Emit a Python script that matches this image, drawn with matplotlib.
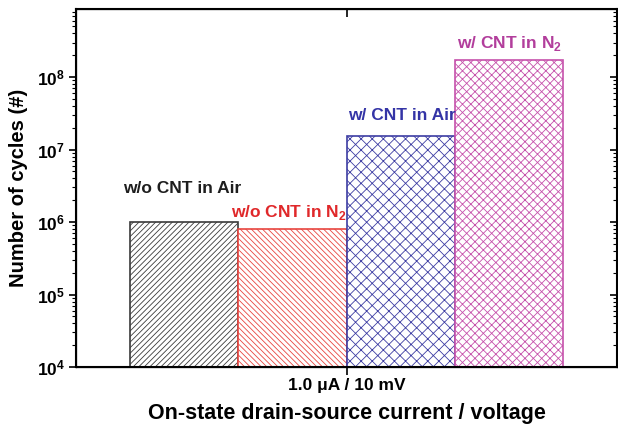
import matplotlib
matplotlib.use("Agg")
import matplotlib.pyplot as plt
from matplotlib.ticker import NullFormatter, LogLocator

# data
labels = ["w/o CNT in Air", r"w/o CNT in N$_\mathbf{2}$",
          "w/ CNT in Air", r"w/ CNT in N$_\mathbf{2}$"]
cycles = [1.0e6, 8.0e5, 1.53e7, 1.7e8]
positions = [-0.6, -0.2, 0.2, 0.6]
x_tick_label = "1.0 μA / 10 mV"
y_ticks = [1e4, 1e5, 1e6, 1e7, 1e8]
y_tick_labels = [r"$\mathbf{10^{%d}}$" % p for p in range(4, 9)]

edge_colors = ["#3a3a3a", "#e8453f", "#3d3da3", "#c652ab"]
text_colors = ["#1e1e1e", "#e0282a", "#3434a6", "#b23e9c"]
hatches = ["//////", "\\\\\\\\\\\\", "xxx", "xxxx"]
# label offsets in pixels from the bar top (dx, dy)
text_offsets = [(-2, 34), (-4, 17), (1, 21), (1, 17)]

plt.rcParams["font.family"] = ["Liberation Sans", "DejaVu Sans"]
plt.rcParams["mathtext.fontset"] = "custom"
plt.rcParams["mathtext.rm"] = "Liberation Sans"
plt.rcParams["mathtext.bf"] = "Liberation Sans:bold"
plt.rcParams["hatch.linewidth"] = 0.6

fig = plt.figure(figsize=(6.18, 4.30), dpi=100)
fig.patch.set_facecolor("white")
ax = fig.add_axes([76 / 618, 63 / 430, 541 / 618, 358 / 430])

for i, (pos, val) in enumerate(zip(positions, cycles)):
    ax.bar(pos, val, width=0.4, bottom=0, facecolor="white",
           edgecolor=edge_colors[i], hatch=hatches[i], linewidth=1.2, zorder=2)
    ax.annotate(labels[i], xy=(pos, val), xytext=text_offsets[i],
                textcoords="offset pixels", ha="center", va="center",
                color=text_colors[i], fontsize=12.5, fontweight="bold")

ax.set_yscale("log")
ax.set_ylim(1e4, 8.7e8)
ax.set_xlim(-1, 1)
ax.set_yticks(y_ticks, y_tick_labels)
ax.yaxis.set_minor_locator(LogLocator(base=10, subs=range(2, 10)))
ax.yaxis.set_minor_formatter(NullFormatter())
ax.set_xticks([0], [x_tick_label])

ax.tick_params(axis="y", which="major", direction="out", length=5, width=1.2,
               labelsize=12.5, pad=3)
ax.tick_params(axis="y", which="minor", direction="out", length=3, width=0.8)
ax.tick_params(axis="x", direction="out", length=6, width=1.2, labelsize=12.5,
               pad=2)
for lbl in ax.get_xticklabels() + ax.get_yticklabels():
    lbl.set_fontweight("bold")

for sp in ax.spines.values():
    sp.set_linewidth(1.5)

# mirrored ticks on right and top, pointing inward
axr = ax.twinx()
axr.set_yscale("log")
axr.set_ylim(ax.get_ylim())
axr.set_yticks(y_ticks)
axr.yaxis.set_minor_locator(LogLocator(base=10, subs=range(2, 10)))
axr.tick_params(axis="y", which="major", direction="in", length=5, width=1.2,
                labelright=False)
axr.tick_params(axis="y", which="minor", direction="in", length=3, width=0.8)
axr.yaxis.set_major_formatter(NullFormatter())
axr.yaxis.set_minor_formatter(NullFormatter())

axt = ax.twiny()
axt.set_xlim(ax.get_xlim())
axt.set_xticks([0])
axt.tick_params(axis="x", direction="in", length=6, width=1.2, labeltop=False)

ax.set_ylabel("Number of cycles (#)", fontsize=14.5, fontweight="bold", labelpad=6)
ax.set_xlabel("On-state drain-source current / voltage", fontsize=15.5,
              fontweight="bold", labelpad=7)

fig.savefig("out.png", dpi=100, facecolor="white")
